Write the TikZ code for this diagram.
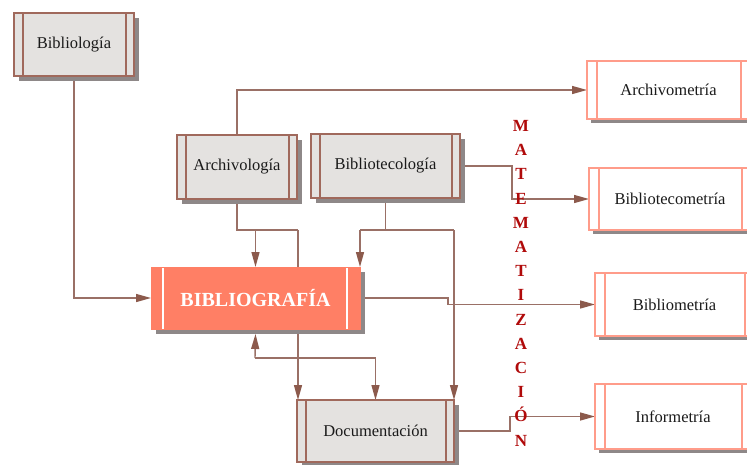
\documentclass[tikz,border=0pt]{standalone}
\usepackage{fontspec}
\setmainfont{Liberation Serif}
\usetikzlibrary{arrows.meta,shadows,backgrounds}
\definecolor{edgebrown}{HTML}{A0695C}
\definecolor{wire}{HTML}{9A7066}
\definecolor{tipbrown}{HTML}{8C5A4C}
\definecolor{paper}{HTML}{E4E2E0}
\definecolor{salmon}{HTML}{FF7F65}
\definecolor{salmonline}{HTML}{FF9C8A}
\definecolor{shade}{HTML}{8E8888}
\definecolor{mathred}{HTML}{B00A0A}
\definecolor{ink}{HTML}{1A1A1A}
\begin{document}
\begin{tikzpicture}[x=1pt,y=-1pt,
  bars/.style={path picture={
    \draw[#1] ([xshift=9pt]path picture bounding box.north west) -- ([xshift=9pt]path picture bounding box.south west);
    \draw[#1] ([xshift=-8pt]path picture bounding box.north east) -- ([xshift=-8pt]path picture bounding box.south east);}},
  greybox/.style={rectangle, inner sep=0pt, outer sep=0pt, draw=edgebrown, line width=1.4pt,
    fill=paper, bars={edgebrown,line width=1.4pt}, text=ink,
    font=\fontsize{16.5}{19}\selectfont,
    drop shadow={shadow xshift=5pt,shadow yshift=-5pt,fill=shade,opacity=1}},
  mainbox/.style={rectangle, inner sep=0pt, outer sep=0pt, draw=salmon, line width=1pt,
    fill=salmon, text=white, font=\fontsize{20}{24}\selectfont\bfseries,
    path picture={
      \draw[white,line width=1.4pt] ([xshift=12pt]path picture bounding box.north west) -- ([xshift=12pt]path picture bounding box.south west);
      \draw[white,line width=1.4pt] ([xshift=-13pt]path picture bounding box.north east) -- ([xshift=-13pt]path picture bounding box.south east);},
    drop shadow={shadow xshift=5pt,shadow yshift=-5pt,fill=shade,opacity=1}},
  metricbox/.style={rectangle, inner sep=0pt, outer sep=0pt, draw=salmonline, line width=1.4pt,
    fill=white, text=ink, font=\fontsize{16.5}{19}\selectfont,
    path picture={
      \draw[salmonline,line width=1.4pt] ([xshift=10pt]path picture bounding box.north west) -- ([xshift=10pt]path picture bounding box.south west);
      \draw[salmonline,line width=1.4pt] ([xshift=-9pt]path picture bounding box.north east) -- ([xshift=-9pt]path picture bounding box.south east);},
    drop shadow={shadow xshift=4pt,shadow yshift=-4pt,fill=shade,opacity=1}},
  ln/.style={draw=wire, line width=1.4pt},
  arr/.style={ln, -{Triangle[length=15pt,width=8pt,color=tipbrown]}},
  mletter/.style={text=mathred, font=\fontsize{17}{20}\selectfont\bfseries, anchor=base, inner sep=0pt}
]
\clip (0,0) rectangle (747,464);
\useasboundingbox (0,0) rectangle (747,464);

% boxes
\node[greybox, minimum width=120pt, minimum height=63pt] (bibliologia) at (74,44.5) {Bibliología};
\node[greybox, minimum width=120pt, minimum height=64pt] (archivologia) at (237,167) {Archivología};
\node[greybox, minimum width=149pt, minimum height=64pt] (bibliotecologia) at (385.5,166) {Bibliotecología};
\node[mainbox, minimum width=209pt, minimum height=62pt] (bibliografia) at (255.5,298) {BIBLIOGRAFÍA};
\node[greybox, minimum width=157pt, minimum height=62pt] (documentacion) at (375.5,431) {Documentación};

\node[metricbox, minimum width=163pt, minimum height=58pt] (archivometria) at (668.5,90) {Archivometría};
\node[metricbox, minimum width=162pt, minimum height=62pt] (bibliotecometria) at (670,199) {Bibliotecometría};
\node[metricbox, minimum width=159pt, minimum height=63pt] (bibliometria) at (674.5,304.5) {Bibliometría};
\node[metricbox, minimum width=156pt, minimum height=65pt] (informetria) at (673,416.5) {Informetría};

% junction points of the connectors
\coordinate (ja) at (237,230);
\coordinate (jb) at (298,230);
\coordinate (jc) at (360,230);
\coordinate (jd) at (454,230);
\coordinate (je) at (255,358);
\coordinate (jf) at (375.5,358);
\coordinate (k1) at (512,180);
\coordinate (k2) at (448,300);
\coordinate (k3) at (510,425);

\begin{scope}[on background layer]
  \draw[arr] (bibliologia.south) |- (bibliografia.west);
  \draw[arr] (archivologia.north) |- (archivometria.west);
  % Archivología downwards
  \draw[ln] (archivologia.south) -- (ja) -- (jb);
  \draw[arr] (ja -| bibliografia.north) -- (bibliografia.north);
  \draw[arr] (jb) -- (jb |- documentacion.north);
  % Bibliotecología downwards
  \draw[ln] (bibliotecologia.south) -- (bibliotecologia.south |- jc);
  \draw[ln] (jc) -- (jd);
  \draw[arr] (jc) -- (bibliografia.north east);
  \draw[arr] (jd) -- (jd |- documentacion.north);
  % BIBLIOGRAFÍA <-> Documentación
  \draw[arr] (je) -- ([yshift=-5pt]bibliografia.south);
  \draw[ln] (je) -- (jf);
  \draw[arr] (jf) -- (documentacion.north);
  % towards the metric boxes
  \draw[arr] (bibliotecologia.east) -| (k1) |- (bibliotecometria.west);
  \draw[arr] ([xshift=5pt]bibliografia.east) -| (k2) |- (bibliometria.west);
  \draw[arr] ([xshift=5pt]documentacion.east) -| (k3) |- (informetria.west);
\end{scope}

% vertical label
\foreach \ch [count=\i] in {M,A,T,E,M,A,T,I,Z,A,C,I,Ó,N}
  \node[mletter] (m\i) at (521,{131.5+(\i-1)*24.2}) {\ch};
\end{tikzpicture}
\end{document}
